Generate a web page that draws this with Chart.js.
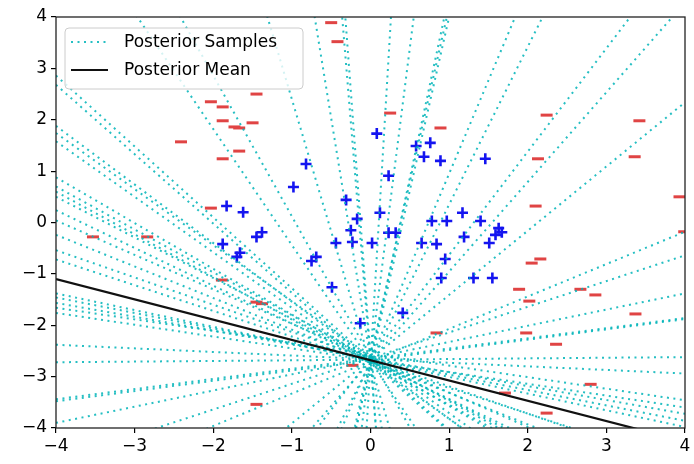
<!DOCTYPE html>
<html>
<head>
<meta charset="utf-8">
<script src="https://cdn.jsdelivr.net/npm/chart.js@4.4.0/dist/chart.umd.min.js"></script>
<style>
  body { margin: 0; background: #fff; }
  #wrap { width: 694px; height: 464px; }
</style>
</head>
<body>
<div id="wrap"><canvas id="chart" width="694" height="464"></canvas></div>
<script>
// Dades del gràfic
const axisMin = -4;
const axisMax = 4;
const lineXs = [-4, 4];

// Rectes de les mostres posteriors: y = b + m*x
const sampleIntercepts = [
  -2.70, -2.62, -2.75, -2.66, -2.70, -2.60, -2.72, -2.64, -2.70, -2.62, -2.76,
  -2.68, -2.72, -2.64, -2.70, -2.66, -2.72, -2.68, -2.62, -2.74, -2.68, -2.64,
  -2.72, -2.66, -2.70, -2.64, -2.70, -2.66, -2.72, -2.68, -2.66, -2.645, -2.68,
  -2.66, -2.67, -2.65, -2.68, -2.64, -2.66, -2.70, -2.64, -2.56
];
const sampleSlopes = [
  -2.26, -2.74, -5.15, -9.38, -18.6, -20.6, 25.8, 12.07, 7.13, 6.82, 6.76,
  3.63, 3.07, 2.01, 1.745, -1.38, -1.35, -1.14, -1.09, -1.08, -0.89, -0.835,
  -0.83, -0.79, -0.735, -0.67, -0.615, -0.53, -0.50, -0.325, -0.30, -0.27, -0.23,
  -0.07, 0.0125, 0.1975, 0.20, 0.315, 1.25, 0.63, 0.50, -0.225
];
const meanIntercept = -2.68;
const meanSlope = -0.395;

// Punts de classe positiva (+)
const posX = [0.08, 0.58, 0.76, 0.68, 0.89, 1.46, 0.23, -0.98, -0.82, -0.31, -1.83, -1.62,
  -0.17, -0.25, 0.12, 0.23, 0.32, 0.78, 0.97, 1.17, 1.40, 1.63, 1.67, 1.59, -0.23, 0.02,
  0.65, 0.84, 1.19, 1.51, 0.95, 0.90, 1.31, 1.55, 0.41, -0.13, -1.88, -1.66, -1.70, -1.45,
  -1.38, -0.44, -0.75, -0.69, -0.49];
const posY = [1.73, 1.49, 1.55, 1.28, 1.20, 1.24, 0.91, 0.69, 1.14, 0.44, 0.32, 0.20,
  0.07, -0.15, 0.19, -0.20, -0.20, 0.03, 0.03, 0.19, 0.03, -0.11, -0.19, -0.24, -0.38, -0.40,
  -0.40, -0.42, -0.28, -0.40, -0.71, -1.08, -1.08, -1.08, -1.76, -1.96, -0.42, -0.59, -0.67, -0.28,
  -0.19, -0.40, -0.75, -0.67, -1.26];

// Punts de classe negativa (_)
const negX = [-0.50, -0.42, -2.03, -1.88, -1.45, -1.88, -1.73, -1.67, -1.50, -2.41, -1.88,
  -1.67, -2.03, 0.25, 0.89, 2.24, 3.42, 3.36, 2.13, 2.10, 3.93, -3.53, -2.84, -1.89, -1.45,
  -1.38, -1.45, 2.05, 2.16, 1.89, 2.02, 2.67, 2.86, 3.37, 1.98, 2.36, 0.84, -0.23, 2.80,
  1.71, 2.24, 3.99];
const negY = [3.89, 3.52, 2.35, 2.25, 2.50, 1.98, 1.86, 1.84, 1.94, 1.57, 1.24,
  1.39, 0.28, 2.13, 1.84, 2.09, 1.98, 1.28, 1.24, 0.32, 0.50, -0.28, -0.28, -1.12, -1.55,
  -1.58, -3.54, -0.79, -0.71, -1.30, -1.53, -1.30, -1.41, -1.78, -2.15, -2.37, -2.15, -2.78, -3.15,
  -3.32, -3.71, -0.18];

const sampleLabel = 'Posterior Samples';
const meanLabel = 'Posterior Mean';

// Estils
const sampleColor = 'rgba(0, 180, 185, 0.85)';
const sampleDash = [2, 4.5];
const meanColor = '#111111';
const posColor = '#1414f0';
const negColor = '#e04444';
const minus = v => String(v).replace('-', '\u2212');

Chart.defaults.font.family = "'DejaVu Sans', sans-serif";
Chart.defaults.font.size = 17;
Chart.defaults.color = '#000';

// Datasets
const datasets = [];
datasets.push({
  label: meanLabel,
  data: lineXs.map(x => ({ x: x, y: meanIntercept + meanSlope * x })),
  showLine: true,
  borderColor: meanColor,
  borderWidth: 2.2,
  pointRadius: 0,
  clip: 0,
  order: 0
});
sampleSlopes.forEach((m, i) => {
  datasets.push({
    label: sampleLabel,
    data: lineXs.map(x => ({ x: x, y: sampleIntercepts[i] + m * x })),
    showLine: true,
    borderColor: sampleColor,
    borderWidth: 2,
    borderDash: sampleDash,
    pointRadius: 0,
    clip: 0,
    order: 1
  });
});
datasets.push({
  label: 'positive',
  data: posX.map((x, i) => ({ x: x, y: posY[i] })),
  pointStyle: 'cross',
  pointRadius: 5.5,
  pointBorderWidth: 2.6,
  borderColor: posColor,
  backgroundColor: posColor,
  clip: 0,
  order: 2
});
datasets.push({
  label: 'negative',
  data: negX.map((x, i) => ({ x: x, y: negY[i] })),
  pointStyle: 'line',
  pointRadius: 6,
  pointBorderWidth: 3,
  borderColor: negColor,
  backgroundColor: negColor,
  clip: 0,
  order: 2
});

// Marc i llegenda dins l'àrea del gràfic
const framePlugin = {
  id: 'frameLegend',
  afterDraw(chart) {
    const { ctx, chartArea: a } = chart;
    ctx.save();
    ctx.strokeStyle = '#222';
    ctx.lineWidth = 1.3;
    ctx.strokeRect(a.left, a.top, a.right - a.left, a.bottom - a.top);

    // caixa de la llegenda
    const bx = a.left + 9, by = a.top + 11, bw = 238, bh = 61, r = 4;
    ctx.beginPath();
    ctx.moveTo(bx + r, by);
    ctx.arcTo(bx + bw, by, bx + bw, by + bh, r);
    ctx.arcTo(bx + bw, by + bh, bx, by + bh, r);
    ctx.arcTo(bx, by + bh, bx, by, r);
    ctx.arcTo(bx, by, bx + bw, by, r);
    ctx.closePath();
    ctx.fillStyle = 'rgba(255,255,255,0.8)';
    ctx.fill();
    ctx.strokeStyle = '#cccccc';
    ctx.lineWidth = 1;
    ctx.stroke();

    const items = [
      { text: sampleLabel, color: sampleColor, dash: sampleDash, width: 2 },
      { text: meanLabel, color: meanColor, dash: [], width: 2.2 }
    ];
    items.forEach((it, i) => {
      const cy = by + 14 + i * 28;
      ctx.beginPath();
      ctx.setLineDash(it.dash);
      ctx.strokeStyle = it.color;
      ctx.lineWidth = it.width;
      ctx.moveTo(bx + 6, cy);
      ctx.lineTo(bx + 43, cy);
      ctx.stroke();
      ctx.setLineDash([]);
      ctx.fillStyle = '#000';
      ctx.font = "17px 'DejaVu Sans', sans-serif";
      ctx.textBaseline = 'middle';
      ctx.textAlign = 'left';
      ctx.fillText(it.text, bx + 59, cy + 1);
    });
    ctx.restore();
  }
};

new Chart(document.getElementById('chart'), {
  type: 'scatter',
  data: { datasets: datasets },
  options: {
    responsive: false,
    animation: false,
    events: [],
    layout: { padding: { top: 17, right: 6, left: 0, bottom: 0 } },
    plugins: { legend: { display: false }, tooltip: { enabled: false } },
    scales: {
      x: {
        type: 'linear',
        min: axisMin,
        max: axisMax,
        afterFit: s => { s.height = 36; },
        ticks: { stepSize: 1, padding: 3, callback: minus, color: '#000' },
        grid: { drawOnChartArea: false, drawTicks: true, tickLength: 5, color: '#000', lineWidth: 1.2 },
        border: { display: false }
      },
      y: {
        type: 'linear',
        min: axisMin,
        max: axisMax,
        afterFit: s => { s.width = 56; },
        ticks: { stepSize: 1, padding: 4, callback: minus, color: '#000' },
        grid: { drawOnChartArea: false, drawTicks: true, tickLength: 5, color: '#000', lineWidth: 1.2 },
        border: { display: false }
      }
    }
  },
  plugins: [framePlugin]
});
</script>
</body>
</html>
